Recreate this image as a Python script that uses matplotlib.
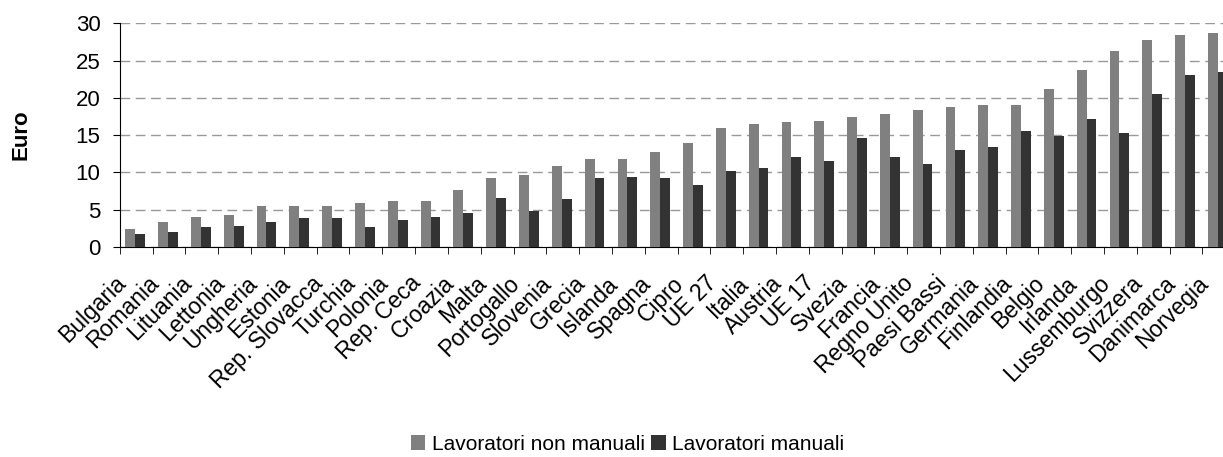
import matplotlib.pyplot as plt
import matplotlib.transforms as mtransforms
import numpy as np

paesi = ["Bulgaria", "Romania", "Lituania", "Lettonia", "Ungheria", "Estonia",
         "Rep. Slovacca", "Turchia", "Polonia", "Rep. Ceca", "Croazia", "Malta",
         "Portogallo", "Slovenia", "Grecia", "Islanda", "Spagna", "Cipro",
         "UE 27", "Italia", "Austria", "UE 17", "Svezia", "Francia",
         "Regno Unito", "Paesi Bassi", "Germania", "Finlandia", "Belgio",
         "Irlanda", "Lussemburgo", "Svizzera", "Danimarca", "Norvegia"]
non_manuali = [2.4, 3.3, 4.0, 4.3, 5.5, 5.5, 5.5, 5.9, 6.1, 6.1, 7.6, 9.2,
               9.6, 10.8, 11.8, 11.8, 12.7, 13.9, 15.9, 16.5, 16.7, 16.9,
               17.4, 17.8, 18.4, 18.8, 19.0, 19.0, 21.2, 23.7, 26.3, 27.8,
               28.4, 28.7]
manuali = [1.7, 2.0, 2.6, 2.8, 3.3, 3.9, 3.9, 2.6, 3.6, 4.0, 4.5, 6.5,
           4.8, 6.4, 9.2, 9.4, 9.2, 8.3, 10.2, 10.6, 12.0, 11.5,
           14.6, 12.0, 11.1, 13.0, 13.4, 15.5, 14.9, 17.1, 15.3, 20.5,
           23.1, 23.5]

plt.rcParams['font.family'] = ['Liberation Sans', 'DejaVu Sans']

fig = plt.figure(figsize=(12.23, 4.57), dpi=100)
ax = fig.add_axes([0.098, 0.46, 0.912, 0.489])

x = np.arange(len(paesi))
w = 0.3
b1 = ax.bar(x - w / 2 - 0.03, non_manuali, w, color="#808080", label="Lavoratori non manuali", zorder=3)
b2 = ax.bar(x + w / 2 - 0.03, manuali, w, color="#333333", label="Lavoratori manuali", zorder=3)

ax.set_xlim(-0.5, len(paesi) - 0.5)
ax.set_ylim(0, 30)
ax.set_yticks(range(0, 31, 5))
ax.yaxis.grid(True, linestyle=(0, (7, 4)), color="#999999", linewidth=1, zorder=0)

ax.set_xticks(x)
ax.set_xticklabels(paesi, rotation=45, ha="right", rotation_mode="anchor", fontsize=16.5)
ax.set_xticks(np.arange(-0.5, len(paesi), 1), minor=True)
ax.tick_params(axis="x", which="major", length=0, pad=18)
ax.tick_params(axis="x", which="minor", length=5, direction="out", color="black")
ax.tick_params(axis="y", labelsize=16, length=5, direction="out", pad=9)

# sposta a sinistra le etichette dei paesi
shift = mtransforms.ScaledTranslation(-0.22, 0, fig.dpi_scale_trans)
for lab in ax.get_xticklabels():
    lab.set_transform(lab.get_transform() + shift)

for s in ["top", "right"]:
    ax.spines[s].set_visible(False)
ax.spines["left"].set_color("black")
ax.spines["bottom"].set_color("black")

ax.set_ylabel("Euro", fontsize=16, fontweight="bold")
ax.yaxis.set_label_coords(-0.079, 0.5)

fig.legend(handles=[b1, b2], loc="center", bbox_to_anchor=(0.513, 0.028), ncol=2,
           frameon=False, fontsize=15, handlelength=0.7, handleheight=0.7,
           handletextpad=0.3, columnspacing=0.3, borderpad=0)

fig.savefig("out.png", dpi=100)
